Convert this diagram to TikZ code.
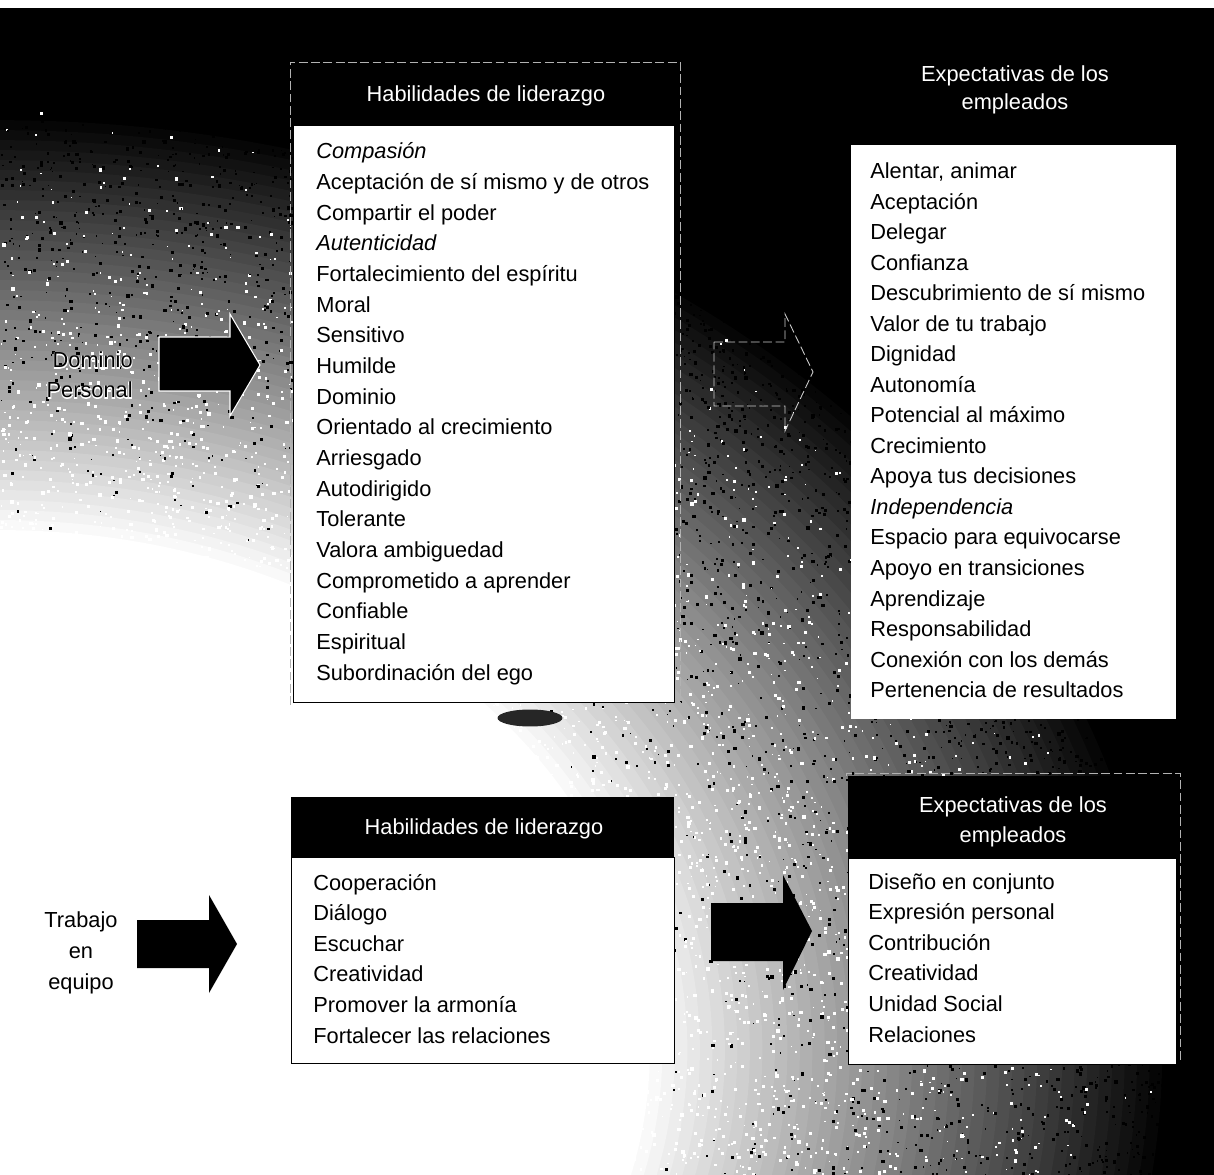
\documentclass[tikz,border=0pt]{standalone}
\usepackage{fontspec}
\setmainfont{Liberation Sans}
\newfontfamily\halofont[FakeBold=7]{Liberation Sans}
\begin{document}
\begin{tikzpicture}[x=0.02cm,y=-0.02cm,
  item/.style={anchor=base west, inner sep=0pt, font=\fontsize{12.4}{17}\selectfont},
  headtxt/.style={anchor=base, inner sep=0pt, text=white, font=\fontsize{12.4}{17}\selectfont},
  lbl/.style={anchor=base, inner sep=0pt, font=\fontsize{12.4}{17}\selectfont},
  halo/.style={anchor=base east, inner sep=0pt, text=white, font=\halofont\fontsize{12.4}{17}\selectfont},
  whitebox/.style={draw=black, line width=0.7pt, fill=white, inner sep=0pt, anchor=north west},
  blackbox/.style={fill=black, inner sep=0pt, anchor=north west},
  blockarrow/.style={fill=black},
  ghostline/.style={draw=white!70!black, line width=0.5pt, dash pattern=on 5pt off 2pt},
]
\useasboundingbox (0,0) rectangle (1214,1175);
% ---------- background ----------
\fill[black] (0,0) rectangle (1214,1175);
\begin{scope}
  \clip (0,0) rectangle (1214,1175);
  \foreach \r in {980,970,...,500}{
    \pgfmathsetmacro\p{max(0,min(100,(\r-520)/4.2))}
    \pgfmathsetmacro\rr{\r/50}
    \pgfmathsetmacro\rx{\r*1.25/50}
    \fill[black!\p] (0,1050) ellipse [x radius=\rx cm, y radius=\rr cm];
  }
  \pgfmathsetseed{4321}
  \foreach \k in {1,...,14000}{
    \pgfmathsetmacro\myx{rnd*1214}
    \pgfmathsetmacro\myy{rnd*1175}
    \pgfmathsetmacro\myd{veclen(\myx/125,(\myy-1050)/100)}
    \pgfmathsetmacro\myt{(\myd-5.2)/4.2}
    \pgfmathsetmacro\myc{rnd<\myt ? 100 : 0}
    \pgfmathsetmacro\mys{1.2+2.3*rnd}
    \ifdim\myt pt>-0.05pt \ifdim\myt pt<1.05pt
      \fill[black!\myc] (\myx,\myy) rectangle ++(\mys,\mys);
    \fi\fi
  }
  \fill[black!85] (530,718) ellipse [x radius=0.65cm, y radius=0.17cm];
\end{scope}
\fill[white] (0,0) rectangle (1214,8);
% ---------- faint header outlines ----------
\draw[ghostline] (290,705) -- (290,62) -- (680,62) -- (680,705);
\draw[ghostline] (846,776) -- (846,773) -- (1180,773) -- (1180,1060);
% ---------- upper left: Habilidades de liderazgo ----------
\node[headtxt] (ulh) at (486,102) {Habilidades de liderazgo};
\node[whitebox, minimum width=7.62cm, minimum height=11.54cm] (ulbox) at (293,125) {};
\foreach \t [count=\i] in {{\itshape Compasión}, Aceptación de sí mismo y de otros, Compartir el poder, {\itshape Autenticidad}, Fortalecimiento del espíritu, Moral, Sensitivo, Humilde, Dominio, Orientado al crecimiento, Arriesgado, Autodirigido, Tolerante, Valora ambiguedad, Comprometido a aprender, Confiable, Espiritual, Subordinación del ego}
  \node[item] (ul\i) at (316,{159+(\i-1)*30.65}) {\t};
% ---------- upper right: Expectativas ----------
\node[headtxt] (urh1) at (1015,82) {Expectativas de los};
\node[headtxt] (urh2) at (1015,110) {empleados};
\node[whitebox, draw=none, minimum width=6.5cm, minimum height=11.48cm] (urbox) at (850,144) {};
\foreach \t [count=\i] in {{Alentar, animar}, Aceptación, Delegar, Confianza, Descubrimiento de sí mismo, Valor de tu trabajo, Dignidad, Autonomía, Potencial al máximo, Crecimiento, Apoya tus decisiones, {\itshape Independencia}, Espacio para equivocarse, Apoyo en transiciones, Aprendizaje, Responsabilidad, Conexión con los demás, Pertenencia de resultados}
  \node[item] (ur\i) at (870,{179+(\i-1)*30.5}) {\t};
% ---------- lower left ----------
\node[blackbox, minimum width=7.66cm, minimum height=1.2cm] (llhead) at (291,797) {};
\node[headtxt] (llh) at (484,834) {Habilidades de liderazgo};
\node[whitebox, minimum width=7.66cm, minimum height=4.12cm] (llbox) at (291,857) {};
\foreach \t [count=\i] in {Cooperación, Diálogo, Escuchar, Creatividad, Promover la armonía, Fortalecer las relaciones}
  \node[item] (ll\i) at (313,{890+(\i-1)*30.6}) {\t};
% ---------- lower right ----------
\node[blackbox, minimum width=6.56cm, minimum height=1.64cm] (lrhead) at (848,776) {};
\node[headtxt] (lrh1) at (1013,812) {Expectativas de los};
\node[headtxt] (lrh2) at (1013,842) {empleados};
\node[whitebox, minimum width=6.56cm, minimum height=4.12cm] (lrbox) at (848,858) {};
\foreach \t [count=\i] in {Diseño en conjunto, Expresión personal, Contribución, Creatividad, Unidad Social, Relaciones}
  \node[item] (lr\i) at (868,{889+(\i-1)*30.6}) {\t};
% ---------- side labels ----------
\node[halo] (dom1h) at (133,368) {Dominio};
\node[halo] (dom2h) at (133,398) {Personal};
\node[lbl, anchor=base east] (dom1) at (133,368) {Dominio};
\node[lbl, anchor=base east] (dom2) at (133,398) {Personal};
\node[lbl] (tr1) at (81,927) {Trabajo};
\node[lbl] (tr2) at (81,958) {en};
\node[lbl] (tr3) at (81,989) {equipo};
% ---------- block arrows ----------
\draw[blockarrow, draw=white, line width=0.6pt] (159,337) -- (230,337) -- (230,314) -- (260,365) -- (230,416) -- (230,391) -- (159,391) -- cycle;
\draw[ghostline, draw=white!80!black] (714,342) -- (785,342) -- (785,314) -- (813,372) -- (785,431) -- (785,406) -- (714,406) -- cycle;
\fill[blockarrow] (137,920) -- (209,920) -- (209,895) -- (237,944) -- (209,993) -- (209,968) -- (137,968) -- cycle;
\fill[blockarrow] (711,903) -- (783,903) -- (783,875) -- (812,931) -- (783,990) -- (783,961) -- (711,961) -- cycle;
\end{tikzpicture}
\end{document}
